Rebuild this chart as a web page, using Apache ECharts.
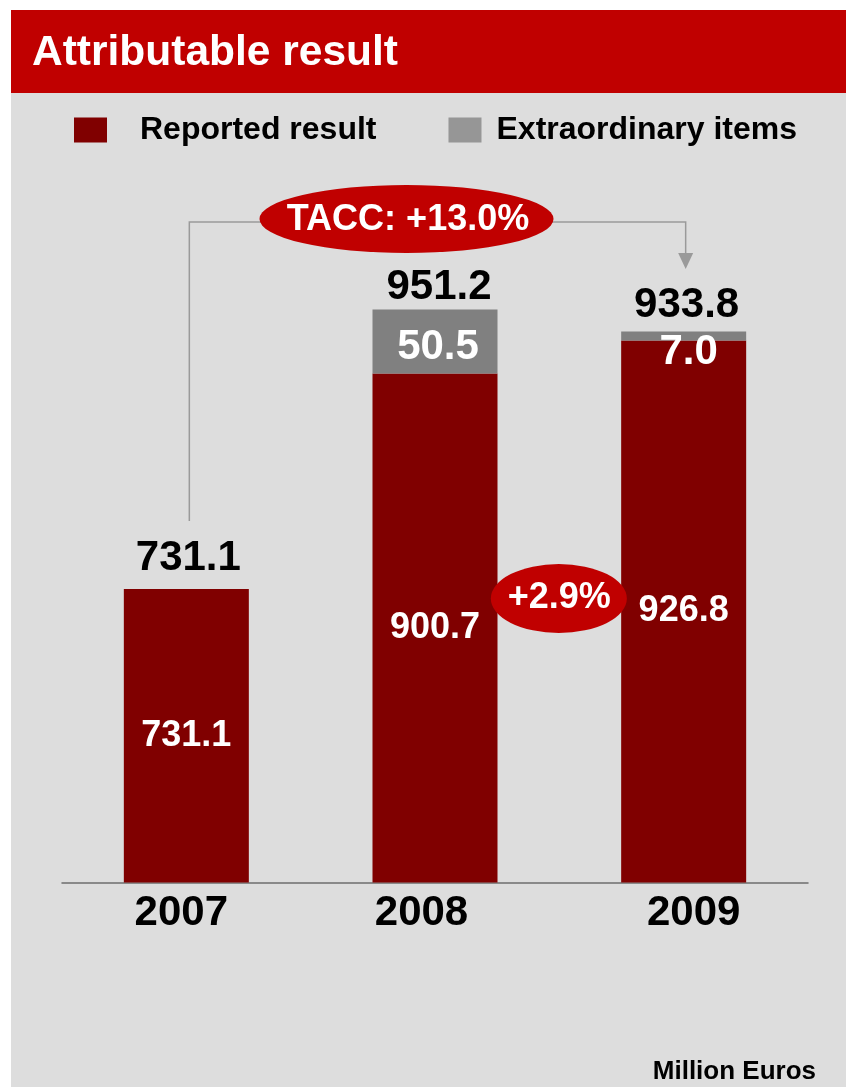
<!DOCTYPE html>
<html>
<head>
<meta charset="utf-8">
<script src="https://cdn.jsdelivr.net/npm/echarts@6/dist/echarts.min.js"></script>
<style>
  html, body { margin: 0; padding: 0; background: #ffffff; }
  #chart { width: 846px; height: 1087px; }
</style>
</head>
<body>
<div id="chart"></div>
<script>
// Attributable result, million euros
const categories = ['2007', '2008', '2009'];
const reportedResult = [731.1, 900.7, 926.8];
const extraordinaryItems = [null, 50.5, 7.0];
const totalResult = [731.1, 951.2, 933.8];
const seriesNames = ['Reported result', 'Extraordinary items'];
const growthTotalText = 'TACC: +13.0%';
const growthLastText = '+2.9%';
const titleText = 'Attributable result';
const unitText = 'Million Euros';

const FONT = '"Liberation Sans", Arial, Helvetica, sans-serif';
const RED = '#c00000';
const DARK_RED = '#800000';
const BAR_GREY = '#808080';
const KEY_GREY = '#969696';
const LINE_GREY = '#9a9a9a';

// small label nudges per category
const totalLabelOffsets = [[2, -5], [4, 4], [3, 0]];
const extraLabelOffsets = [[0, 0], [3, 6], [5, 16]];
const yearLabelPadding = [[0, 10, 0, 0], [0, 27, 0, 0], [0, 0, 0, 20]];

const chart = echarts.init(document.getElementById('chart'), null, { renderer: 'canvas' });

const yearRich = {};
categories.forEach((c, i) => {
  yearRich['y' + i] = {
    fontFamily: FONT, fontSize: 42, fontWeight: 'bold', color: '#000',
    padding: yearLabelPadding[i]
  };
});

const legendText = {
  fontFamily: FONT, fontSize: 32, fontWeight: 'bold', color: '#000'
};

const option = {
  animation: false,
  backgroundColor: '#ffffff',
  legend: {
    left: 74,
    top: 114,
    padding: 0,
    itemWidth: 33,
    itemHeight: 25,
    itemGap: 72,
    icon: 'rect',
    selectedMode: false,
    textStyle: legendText,
    data: [
      {
        name: seriesNames[0], itemStyle: { color: DARK_RED },
        textStyle: Object.assign({ padding: [0, 0, 0, 28] }, legendText)
      },
      {
        name: seriesNames[1], itemStyle: { color: KEY_GREY },
        textStyle: Object.assign({ padding: [0, 0, 0, 10] }, legendText)
      }
    ]
  },
  grid: { left: 62, right: 38, top: 120.5, bottom: 204.5, containLabel: false },
  xAxis: {
    type: 'category',
    data: categories,
    axisLine: { lineStyle: { color: '#6e6e6e', width: 1.5 } },
    axisTick: { show: false },
    axisLabel: {
      margin: 10,
      formatter: (v, i) => '{y' + i + '|' + v + '}',
      rich: yearRich
    }
  },
  yAxis: {
    type: 'value',
    min: 500,
    max: 1100,
    show: false,
    splitLine: { show: false }
  },
  series: [
    {
      name: seriesNames[0],
      type: 'bar',
      stack: 'total',
      barWidth: 125,
      itemStyle: { color: DARK_RED },
      label: {
        show: true, position: 'inside',
        fontFamily: FONT, fontSize: 36, fontWeight: 'bold', color: '#fff',
        formatter: p => p.value.toFixed(1)
      },
      data: reportedResult
    },
    {
      name: seriesNames[1],
      type: 'bar',
      stack: 'total',
      barWidth: 125,
      itemStyle: { color: BAR_GREY },
      label: {
        show: true, position: 'inside',
        fontFamily: FONT, fontSize: 42, fontWeight: 'bold', color: '#fff',
        formatter: p => p.value.toFixed(1)
      },
      data: extraordinaryItems.map((v, i) => v == null ? '-' : {
        value: v,
        label: { offset: extraLabelOffsets[i] }
      })
    },
    {
      name: 'total',
      type: 'scatter',
      symbolSize: 0,
      silent: true,
      itemStyle: { opacity: 1 },
      label: {
        show: true, position: 'top', opacity: 1,
        fontFamily: FONT, fontSize: 42, fontWeight: 'bold', color: '#000',
        formatter: p => p.value[1].toFixed(1)
      },
      data: totalResult.map((v, i) => ({
        value: [categories[i], v],
        label: { offset: totalLabelOffsets[i] }
      }))
    }
  ]
};

chart.setOption(option);

// frame, title and growth callouts, anchored to the category positions
const xFirst = chart.convertToPixel({ xAxisIndex: 0 }, categories[0]);
const xLast = chart.convertToPixel({ xAxisIndex: 0 }, categories[categories.length - 1]);
const xMid = chart.convertToPixel({ xAxisIndex: 0 }, categories[1]);
const leftX = xFirst + 3;
const rightX = xLast + 2;
const bracketY = 222;
const arrowTop = 253;
const arrowTip = 269;
const leftBottom = 521;
const tacc = { cx: (leftX + rightX) / 2 - 31, cy: 219, rx: 147, ry: 34 };
const last = { cx: (xMid + xLast) / 2 - 0.5, cy: 598.5, rx: 68, ry: 34.5 };

function ellipse(e, z) {
  return {
    type: 'circle', z: z,
    x: e.cx, y: e.cy, scaleX: e.rx / e.ry, scaleY: 1,
    shape: { cx: 0, cy: 0, r: e.ry },
    style: { fill: RED }
  };
}

chart.setOption({
  graphic: [
    { type: 'rect', z: -20, shape: { x: 11, y: 10, width: 835, height: 1077 }, style: { fill: '#dddddd' } },
    { type: 'rect', z: -19, shape: { x: 11, y: 10, width: 835, height: 83 }, style: { fill: RED } },
    {
      type: 'text', z: 10,
      style: {
        text: titleText, x: 32, y: 53, fill: '#ffffff',
        font: 'bold 42.5px ' + FONT, textVerticalAlign: 'middle'
      }
    },
    {
      type: 'polyline', z: 5,
      shape: { points: [[leftX, leftBottom], [leftX, bracketY], [rightX, bracketY], [rightX, arrowTop]] },
      style: { stroke: LINE_GREY, lineWidth: 1.5, fill: null }
    },
    {
      type: 'polygon', z: 5,
      shape: { points: [[rightX - 7.5, arrowTop], [rightX + 7.5, arrowTop], [rightX, arrowTip]] },
      style: { fill: LINE_GREY }
    },
    ellipse(tacc, 6),
    {
      type: 'text', z: 7,
      style: {
        text: growthTotalText, x: tacc.cx + 1.5, y: tacc.cy + 1.5, fill: '#ffffff',
        font: 'bold 36px ' + FONT, textAlign: 'center', textVerticalAlign: 'middle'
      }
    },
    ellipse(last, 6),
    {
      type: 'text', z: 7,
      style: {
        text: growthLastText, x: last.cx + 0.5, y: last.cy, fill: '#ffffff',
        font: 'bold 36px ' + FONT, textAlign: 'center', textVerticalAlign: 'middle'
      }
    },
    {
      type: 'text', z: 10,
      style: {
        text: unitText, x: 816, y: 1072, fill: '#000000',
        font: 'bold 26px ' + FONT, textAlign: 'right', textVerticalAlign: 'middle'
      }
    }
  ]
});
</script>
</body>
</html>
